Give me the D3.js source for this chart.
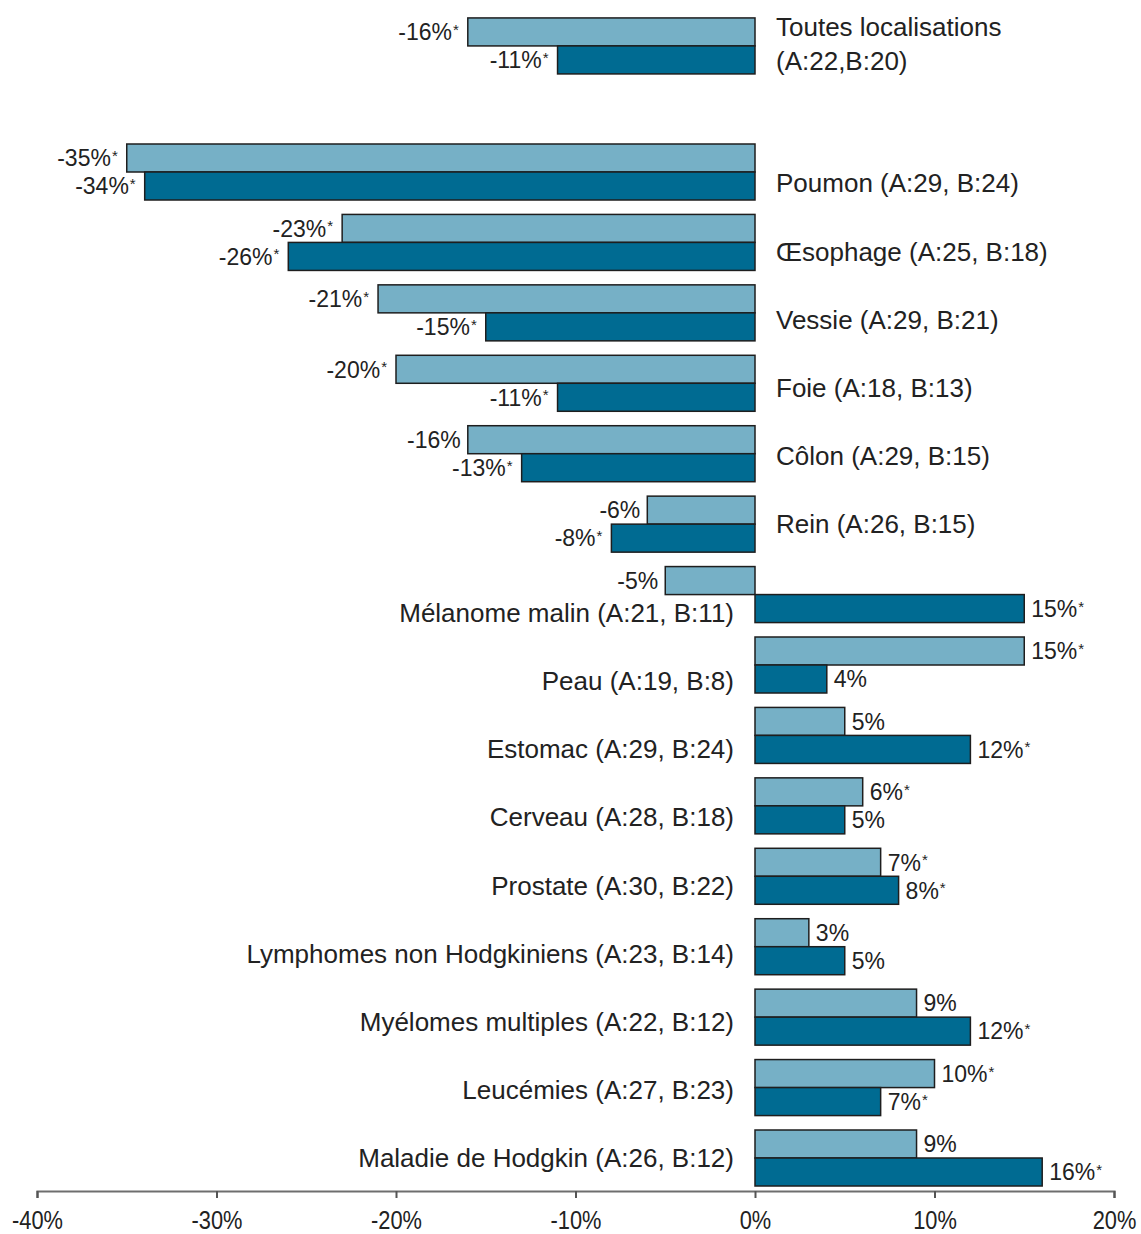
<!DOCTYPE html>
<html lang="fr">
<head>
<meta charset="utf-8">
<script src="https://cdn.jsdelivr.net/npm/d3@7"></script>
<style>
  html, body { margin: 0; padding: 0; background: #fff; }
  svg { display: block; }
  text { font-family: "Liberation Sans", Arial, Helvetica, sans-serif; fill: #222; }
</style>
</head>
<body>
<svg id="chart" width="1141" height="1234"></svg>
<script>
// Localisations et nombre de registres (A, B)
const categories = ["Toutes localisations", "Poumon", "Œsophage", "Vessie", "Foie", "Côlon", "Rein",
  "Mélanome malin", "Peau", "Estomac", "Cerveau", "Prostate", "Lymphomes non Hodgkiniens",
  "Myélomes multiples", "Leucémies", "Maladie de Hodgkin"];
const countsA = [22, 29, 25, 29, 18, 29, 26, 21, 19, 29, 28, 30, 23, 22, 27, 26];
const countsB = [20, 24, 18, 21, 13, 15, 15, 11, 8, 24, 18, 22, 14, 12, 23, 12];
// Écarts en % (série claire = A, série foncée = B)
const seriesA = [-16, -35, -23, -21, -20, -16, -6, -5, 15, 5, 6, 7, 3, 9, 10, 9];
const seriesB = [-11, -34, -26, -15, -11, -13, -8, 15, 4, 12, 5, 8, 5, 12, 7, 16];
// Écart significatif (*)
const signifA = [1, 1, 1, 1, 1, 0, 0, 0, 1, 0, 1, 1, 0, 0, 1, 0];
const signifB = [1, 1, 1, 1, 1, 1, 1, 1, 0, 1, 0, 1, 0, 1, 1, 1];
const tickValues = [-40, -30, -20, -10, 0, 10, 20];

const colorA = "#76b0c6";
const colorB = "#006b92";
const stroke = "#1e1e1e";

const svg = d3.select("#chart");

const x = d3.scaleLinear().domain([-40, 20]).range([37, 1114]);

// Vertical slots: row 0 is the overall row, set apart from the others
const headerGap = 0.79;
const slot = d3.scaleLinear().domain([1, categories.length - 1]).range([144, 1130]);
const slotPitch = slot(2) - slot(1);
const barH = 28;
const groupTop = i => i === 0 ? slot(1) - (1 + headerGap) * slotPitch : slot(i);

const rows = categories.map((name, i) => ({
  i, name, a: seriesA[i], b: seriesB[i], sa: signifA[i], sb: signifB[i],
  na: countsA[i], nb: countsB[i]
}));

// Bars
const g = svg.append("g");
rows.forEach(r => {
  [[r.a, colorA, 0], [r.b, colorB, 1]].forEach(([v, c, k]) => {
    g.append("rect")
      .attr("x", Math.min(x(v), x(0)))
      .attr("y", groupTop(r.i) + k * barH)
      .attr("width", Math.abs(x(v) - x(0)))
      .attr("height", barH)
      .attr("fill", c)
      .attr("stroke", stroke)
      .attr("stroke-width", 1.5);
  });
});

// Value labels
rows.forEach(r => {
  [[r.a, r.sa, 0], [r.b, r.sb, 1]].forEach(([v, s, k]) => {
    const neg = v < 0;
    const t = g.append("text")
      .attr("x", neg ? x(v) - (s ? 9 : 7) : x(v) + 7)
      .attr("y", groupTop(r.i) + k * barH + barH / 2)
      .attr("dy", "0.36em")
      .attr("text-anchor", neg ? "end" : "start")
      .style("font-size", "23px");
    t.append("tspan").text(v + "%");
    if (s) t.append("tspan").attr("dx", 1).attr("dy", "-0.35em").style("font-size", "15px").text("*");
  });
});

// Category labels: right of zero when both values are negative, left otherwise
const labelPitch = slotPitch * 0.968;
const rightRows = rows.filter(r => r.i > 0 && r.a < 0 && r.b < 0);
const leftRows = rows.filter(r => r.i > 0 && !(r.a < 0 && r.b < 0));
const center = i => groupTop(i) + barH;

rightRows.forEach((r, j) => {
  const cy = center(rightRows[0].i) + 11 + j * labelPitch;
  g.append("text")
    .attr("x", x(0) + 21).attr("y", cy).attr("dy", "0.36em")
    .style("font-size", "26px")
    .text(`${r.name} (A:${r.na}, B:${r.nb})`);
});
leftRows.forEach((r, j) => {
  const cy = center(leftRows[0].i) + 18 + j * labelPitch;
  g.append("text")
    .attr("x", x(0) - 21).attr("y", cy).attr("dy", "0.36em")
    .attr("text-anchor", "end")
    .style("font-size", "26px")
    .text(`${r.name} (A:${r.na}, B:${r.nb})`);
});

// Overall row label on two lines
const r0 = rows[0];
const t0 = g.append("text").attr("x", x(0) + 21).style("font-size", "26px");
t0.append("tspan").attr("x", x(0) + 21).attr("y", groupTop(0) + barH / 2 - 5).attr("dy", "0.36em").text(r0.name);
t0.append("tspan").attr("x", x(0) + 21).attr("y", groupTop(0) + barH * 1.5 + 1).attr("dy", "0.36em").text(`(A:${r0.na},B:${r0.nb})`);

// Axis
const axis = d3.axisBottom(x)
  .tickValues(tickValues)
  .tickFormat(d => d + "%")
  .tickSize(7)
  .tickSizeOuter(7);
const ax = svg.append("g").attr("transform", "translate(0,1191)").call(axis);
ax.select(".domain").attr("stroke", "#6e6e6e").attr("stroke-width", 2.2);
ax.selectAll(".tick line").attr("stroke", "#555").attr("stroke-width", 2);
ax.selectAll(".tick text")
  .attr("y", 20)
  .attr("dy", "0.71em")
  .attr("transform", "scale(0.84,1)")
  .style("font-family", "'Liberation Sans', Arial, sans-serif")
  .style("font-size", "26px")
  .attr("fill", "#222");
</script>
</body>
</html>
